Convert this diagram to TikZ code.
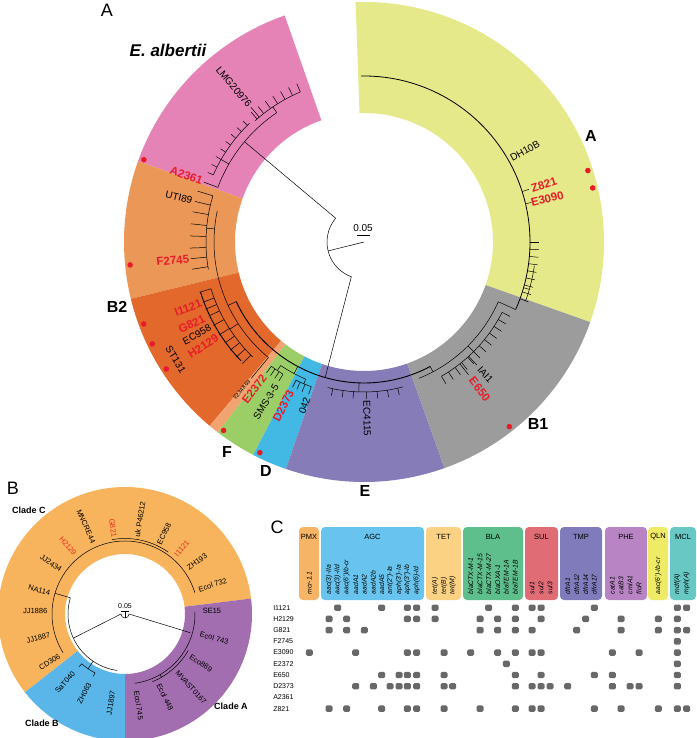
\documentclass[tikz,border=0pt]{standalone}
\usepackage{fontspec}
\setmainfont{Liberation Sans}

\definecolor{hitred}{RGB}{232,28,40}
\definecolor{ringpink}{RGB}{229,131,183}
\definecolor{ringorange}{RGB}{234,151,88}
\definecolor{ringrust}{RGB}{226,104,44}
\definecolor{ringpeach}{RGB}{241,164,112}
\definecolor{ringgreen}{RGB}{156,206,104}
\definecolor{ringblue}{RGB}{66,184,228}
\definecolor{ringviolet}{RGB}{134,124,184}
\definecolor{ringgrey}{RGB}{156,156,156}
\definecolor{ringyellow}{RGB}{230,233,138}
\definecolor{cladeC}{RGB}{247,180,92}
\definecolor{cladeB}{RGB}{90,182,232}
\definecolor{cladeA}{RGB}{163,110,176}
\definecolor{pmx}{RGB}{246,180,102}
\definecolor{agc}{RGB}{104,196,238}
\definecolor{tet}{RGB}{251,210,132}
\definecolor{bla}{RGB}{94,190,140}
\definecolor{sul}{RGB}{224,108,118}
\definecolor{tmp}{RGB}{128,124,188}
\definecolor{phe}{RGB}{184,132,196}
\definecolor{qln}{RGB}{240,235,102}
\definecolor{mcl}{RGB}{104,200,196}
\definecolor{cellgrey}{RGB}{104,104,104}

\newcommand*{\Ring}[5]{%
   \fill[#1] (#2:#4) arc[start angle=#2, end angle=#3, radius=#4pt]
      -- (#3:#5) arc[start angle=#3, end angle=#2, radius=#5pt] -- cycle;}
\newcommand*{\Branch}[3]{\draw (#1:#3) arc[start angle=#1, end angle=#2, radius=#3pt];}
\newcommand*{\Tip}[3]{\draw (#1:#2) -- (#1:#3);}
\newcommand*{\ColX}{{309.3,329,337.7,346.7,355.7,364.3,373.3,381.7,390,399,407.3,416.7,435,444,452.7,470.7,480,488.7,497.7,506.3,515.3,532,541,550,567.7,576.7,585.7,594.3,612.3,621,630,639,658.3,677.3,686.7}}

\tikzset{
  leaflab/.style={font=\fontsize{10}{12}\selectfont, inner sep=0.5pt},
  hit/.style={leaflab, text=hitred, font=\fontsize{11.5}{13}\selectfont\bfseries},
  cladeletter/.style={font=\fontsize{16}{18}\selectfont\bfseries},
  panellab/.style={font=\fontsize{18}{20}\selectfont},
  bleaf/.style={font=\fontsize{7.5}{9}\selectfont, inner sep=0.5pt},
  bhit/.style={bleaf, text=hitred!85!orange},
  cladename/.style={font=\fontsize{9}{11}\selectfont\bfseries},
  grouphead/.style={font=\fontsize{7.5}{9}\selectfont},
  genelab/.style={font=\fontsize{6.8}{8}\selectfont\itshape, rotate=90, anchor=west, inner sep=0.5pt},
  rowlab/.style={font=\fontsize{7}{8}\selectfont, anchor=west, inner sep=0pt},
  hitcell/.style={fill=cellgrey, rounded corners=1.5pt},
  hitdot/.style={fill=hitred},
}

\begin{document}
\begin{tikzpicture}[x=1pt, y=1pt, line width=0.5pt]
\useasboundingbox (0,0) rectangle (696,-738);

\node[panellab] (labA) at (107,-10) {A};
\begin{scope}[shift={(364,-242)}]
  \Ring{ringyellow}{-19.5}{92}{129}{240}
  \Ring{ringpink}{109.3}{160.3}{129}{240}
  \Ring{ringorange}{160.3}{193.7}{129}{240}
  \Ring{ringrust}{193.7}{230}{129}{240}
  \Ring{ringpeach}{230}{232.5}{129}{240}
  \Ring{ringgreen}{232.5}{242.5}{129}{240}
  \Ring{ringblue}{242.5}{251}{129}{240}
  \Ring{ringviolet}{251}{289.6}{129}{240}
  \Ring{ringgrey}{289.6}{340.5}{129}{240}

  \draw (0,0) -- (194:37);
  \Branch{140}{250}{37}
  \draw (140:37) -- (140:156);
  \draw (250:37) -- (254:141);
  \draw[line width=0.9pt] (205:141) arc[start angle=205, end angle=298, radius=141pt];

  \Branch{124}{159.5}{156}
  \Tip{124}{156}{163}
  \Branch{113}{132}{163}
  \foreach \a in {113,116,...,131} {\Tip{\a}{163}{172}}
  \Tip{150}{156}{165}
  \Branch{134}{156}{165}
  \foreach \a in {135,138,...,156} {\Tip{\a}{165}{171}}
  \Tip{130}{163}{176}
  \Tip{159.5}{156}{171}

  \Tip{205}{141}{150}
  \Branch{168}{230.4}{150}
  \Tip{175}{150}{158}
  \Branch{163}{190}{158}
  \foreach \a in {163,166.5,170,174,178,182,185.5,189} {\Tip{\a}{158}{174}}
  \Tip{213}{150}{160}
  \Branch{197}{226}{160}
  \draw[line width=0.9pt] (197:171) arc[start angle=197, end angle=224, radius=171pt];
  \foreach \a in {197,200.5,203,205.5,209,212.7,216,219,222,225} {\Tip{\a}{160}{172}}
  \Tip{230.4}{150}{177}

  \Tip{242}{141}{149}
  \Branch{236}{247}{149}
  \Tip{236}{149}{155}
  \Branch{233.3}{238.5}{155}
  \foreach \a in {233.3,235,236.8,238.5} {\Tip{\a}{155}{163}}
  \Tip{247}{149}{154}
  \Branch{243.8}{250}{154}
  \foreach \a in {243.8,245.5,247.5,250} {\Tip{\a}{154}{162}}

  \Tip{268}{141}{150}
  \Branch{256}{285}{150}
  \foreach \a in {258,262,266,271,275,279,283} {\Tip{\a}{150}{157}}

  \Tip{298}{141}{147}
  \Branch{292}{336}{147}
  \Tip{315}{147}{155}
  \Branch{300}{333}{155}
  \foreach \a in {300,303,...,333} {\Tip{\a}{155}{164}}
  \Tip{308.2}{155}{169}
  \Tip{312.5}{155}{167}
  \Tip{336}{147}{166}
  \draw[line width=0.8pt] (336:166) arc[start angle=336, end angle=451, radius=166pt];
  \Tip{344}{166}{172}
  \Branch{340}{352}{172}
  \foreach \a in {340,342.5,...,360} {\Tip{\a}{166}{175}}
  \Tip{17.7}{166}{173}
  \Tip{13.3}{166}{172}

  \node[leaflab, anchor=east, rotate=-50] (lmg) at (130:177) {LMG20976};
  \node[hit, anchor=east, rotate=-20.5] (a2361) at (159.5:172) {A2361};
  \node[leaflab, anchor=east, rotate=-13.5] (uti) at (166.5:176) {UTI89};
  \node[hit, anchor=east, rotate=5.5] (f2745) at (185.5:175) {F2745};
  \node[hit, anchor=east, rotate=20.5] (i1121) at (200.5:173) {I1121};
  \node[hit, anchor=east, rotate=25.5] (g821) at (205.5:176) {G821};
  \node[leaflab, anchor=east, rotate=29] (ec958) at (209:175) {EC958};
  \node[hit, anchor=east, rotate=33] (h2129) at (213:174) {H2129};
  \node[leaflab, rotate=-58] (st131) at (212:222) {ST131};
  \node[leaflab, font=\fontsize{5.5}{6}\selectfont, anchor=east, rotate=50.4] (e2348) at (230.4:179) {E2348 69};
  \node[hit, anchor=east, rotate=53.3] (e2372) at (233.3:166) {E2372};
  \node[leaflab, anchor=east, rotate=58.5] (sms) at (238.5:167) {SMS-3-5};
  \node[hit, anchor=east, rotate=63.8] (d2373) at (243.8:165) {D2373};
  \node[leaflab, anchor=east, rotate=70] (o42) at (250:165) {042};
  \node[leaflab, anchor=west, rotate=-89] (ec4115) at (271:158) {EC4115};
  \node[leaflab, anchor=west, rotate=-47.5] (iai1) at (312.5:170) {IAI1};
  \node[hit, anchor=west, rotate=-51.8] (e650) at (308.2:173) {E650};
  \node[leaflab, anchor=west, rotate=29.5] (dh10b) at (29.5:168) {DH10B};
  \node[hit, anchor=west, rotate=17.7] (z821) at (17.7:175) {Z821};
  \node[hit, anchor=west, rotate=13.3] (e3090) at (13.3:171) {E3090};

  \foreach \a in {159.5,185.6,200.4,205.7,212.7,233.3,243.7,308.2,17.7,13.3}
    {\fill[hitdot] (\a:235) circle (2.8pt);}
\end{scope}
\node[leaflab] (scaleA) at (363,-228) {0.05};
\draw (357,-235.5) -- (370,-235.5);
\node[font=\fontsize{17}{20}\selectfont\bfseries\itshape] (alb) at (168,-50) {E. albertii};
\node[cladeletter] (phA) at (591,-136) {A};
\node[cladeletter] (phB1) at (538,-424) {B1};
\node[cladeletter] (phB2) at (117,-307) {B2};
\node[cladeletter] (phF) at (227,-452) {F};
\node[cladeletter] (phD) at (266,-471) {D};
\node[cladeletter] (phE) at (365,-491) {E};

\node[panellab] (labB) at (13,-488) {B};
\begin{scope}[shift={(125,-614)}]
  \Ring{cladeC}{7}{218}{60}{127}
  \Ring{cladeB}{218}{270}{60}{127}
  \Ring{cladeA}{270}{367}{60}{127}

  \draw (205:57) -- (-4,0) arc[start angle=180, end angle=360, radius=4pt] -- (344:68);
  \draw (-4,2.5) -- (4,2.5);
  \draw (0,2.5) -- (0,-4);
  \Branch{163.5}{262}{57}
  \Tip{163.5}{57}{73}
  \Branch{17}{212}{73}
  \Branch{55}{100}{75.5}
  \Tip{236}{57}{66}
  \Branch{229}{243}{66}
  \Tip{229}{66}{70}
  \Tip{243}{66}{70}
  \Branch{278}{362}{70}
  \Tip{300}{70}{73}
  \Branch{292}{330}{73}
  \node[bleaf, font=\fontsize{7}{8}\selectfont] (scaleB) at (0,8) {0.05};

  \node[bleaf, anchor=west, rotate=18.4] (bEcol732) at (18.4:77) {Ecol 732};
  \node[bleaf, anchor=west, rotate=36] (bZH193) at (36:77) {ZH193};
  \node[bhit, anchor=west, rotate=49] (bI1121) at (49:77) {I1121};
  \node[bleaf, anchor=west, rotate=64] (bEC958) at (64:77) {EC958};
  \node[bleaf, anchor=west, rotate=81] (bP46212) at (81:77) {uk P46212};
  \node[bhit, anchor=east, rotate=-82] (bG821) at (98:77) {G821};
  \node[bleaf, anchor=east, rotate=-66] (bMNCRE44) at (114:77) {MNCRE44};
  \node[bhit, anchor=east, rotate=-50] (bH2129) at (130:77) {H2129};
  \node[bleaf, anchor=east, rotate=-34.5] (bJJ2434) at (145.5:77) {JJ2434};
  \node[bleaf, anchor=east, rotate=-15.4] (bNA114) at (164.6:77) {NA114};
  \node[bleaf, anchor=east, rotate=-2] (bJJ1886) at (178:77) {JJ1886};
  \node[bleaf, anchor=east, rotate=15.4] (bJJ1887) at (195.4:77) {JJ1887};
  \node[bleaf, anchor=east, rotate=32.6] (bCD306) at (212.6:77) {CD306};
  \node[bleaf, anchor=east, rotate=48.8] (bSaT040) at (228.8:77) {SaT040};
  \node[bleaf, anchor=east, rotate=62.8] (bZH063) at (242.8:77) {ZH063};
  \node[bleaf, anchor=east, rotate=81] (bJJ1897) at (261:77) {JJ1897};
  \node[bleaf, anchor=west, rotate=-81.5] (bEcol745) at (278.5:77) {Ecol 745};
  \node[bleaf, anchor=west, rotate=-64.3] (bEcol448) at (295.7:77) {Ecol 448};
  \node[bleaf, anchor=west, rotate=-48] (bMVAST) at (312:77) {MVAST0167};
  \node[bleaf, anchor=west, rotate=-33] (bEco889) at (327:77) {Eco889};
  \node[bleaf, anchor=west, rotate=-15] (bEcol743) at (345:77) {Ecol 743};
  \node[bleaf, anchor=west, rotate=2] (bSE15) at (2:77) {SE15};
\end{scope}
\node[cladename] (cladeCname) at (29,-510) {Clade C};
\node[cladename] (cladeBname) at (42,-723) {Clade B};
\node[cladename] (cladeAname) at (231,-706) {Clade A};

\node[panellab] (labC) at (277,-527) {C};
\foreach \name/\col/\xa/\xb in {PMX/pmx/299/319, AGC/agc/321/424, TET/tet/426/461,
    BLA/bla/463/523, SUL/sul/525/558, TMP/tmp/560/602, PHE/phe/605/647,
    QLN/qln/648/668, MCL/mcl/670/696}{
  \fill[\col, rounded corners=4pt] (\xa,-527) rectangle (\xb,-600);
  \node[grouphead] (head\name) at ({(\xa+\xb)/2},-537) {\name};
}
\foreach \x/\g [count=\i] in {309.3/mcr-1.1, 329/aac(3)-IIa, 337.7/aac(3)-IId,
    346.7/aac(6')Ib-cr, 355.7/aadA1, 364.3/aadA2, 373.3/aadA2b, 381.7/aadA5,
    390/ant(2'')-Ia, 399/aph(3')-Ia, 407.3/aph(3'')-Ib, 416.7/aph(6)-Id,
    435/tet(A), 444/tet(B), 452.7/tet(M), 470.7/blaCTX-M-1, 480/blaCTX-M-15,
    488.7/blaCTX-M-27, 497.7/blaOXA-1, 506.3/blaTEM-1A, 515.3/blaTEM-1B,
    532/sul1, 541/sul2, 550/sul3, 567.7/dfrA1, 576.7/dfrA12, 585.7/dfrA14,
    594.3/dfrA17, 612.3/catA1, 621/catB3, 630/cmlA1, 639/floR,
    658.3/aac(6')-Ib-cr, 677.3/mdf(A), 686.7/mph(A)}{
  \node[genelab] (gene\i) at (\x,-595) {\g};
}
\foreach \s [count=\i from 0] in {I1121,H2129,G821,F2745,E3090,E2372,E650,D2373,A2361,Z821}{
  \node[rowlab] (row\i) at (273,{-607.7-11.22*\i}) {\s};
}
\foreach \i/\cols in {0/{2,7,10,11,12,17,20,21,22,27,33,34},
    1/{1,3,10,11,12,16,18,20,22,26,29,32,33},
    2/{1,3,5,16,18,20,21,25,29,32,33,34},
    3/{33},
    4/{0,4,10,11,13,15,18,20,21,22,28,31,33},
    5/{19,33},
    6/{7,9,10,11,13,20,22,27,28,33},
    7/{4,6,8,9,10,11,13,14,20,21,22,23,24,28,30,31,33},
    9/{1,3,7,10,11,13,16,20,21,22,27,29,32,33,34}}{
  \foreach \c in \cols {
    \pgfmathsetmacro{\xc}{\ColX[\c]}
    \fill[hitcell] ({\xc-3.5},{-607.7-11.22*\i-3.2}) rectangle ++(7,6.4);
  }
}
\end{tikzpicture}
\end{document}
